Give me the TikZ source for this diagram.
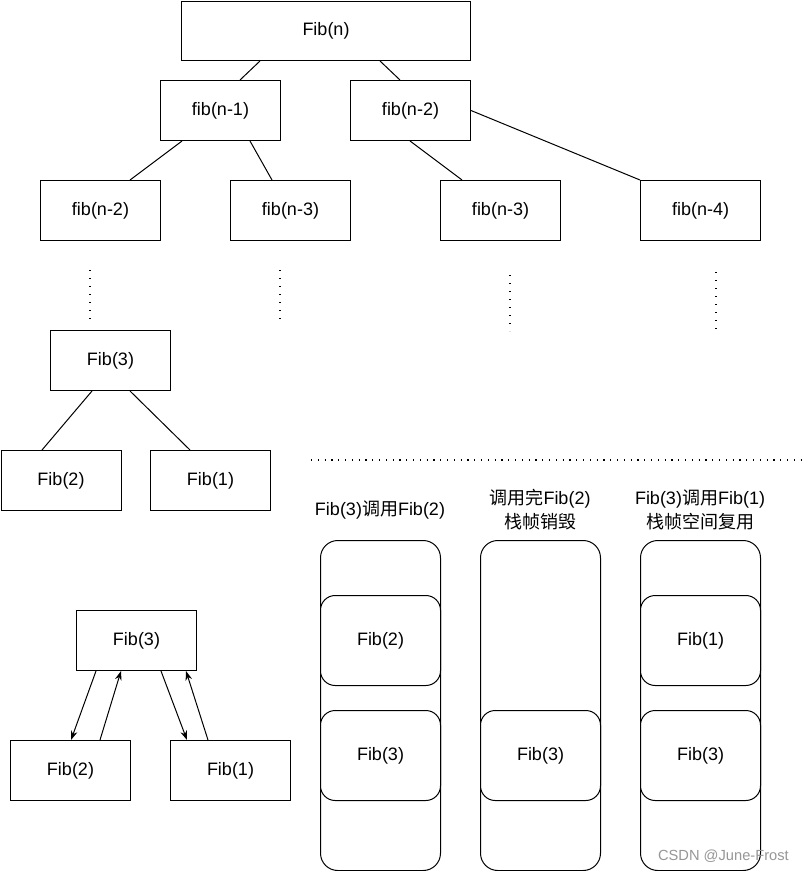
\documentclass[tikz,border=0pt]{standalone}
\usepackage{fontspec}
\setmainfont{Liberation Sans}
\newfontfamily\cjk{Noto Sans CJK SC}
\usetikzlibrary{arrows.meta,calc}
\definecolor{wmgray}{RGB}{150,150,150}
\begin{document}
\begin{tikzpicture}[x=0.75pt,y=-0.75pt,
  lab/.style={font=\fontsize{13.5}{18}\selectfont},
  box/.style={draw, line width=0.75pt, inner sep=0pt, minimum width=90pt, minimum height=45pt, anchor=north west, lab},
  edge/.style={line width=0.75pt},
  arr/.style={line width=0.75pt, -{Stealth[length=7pt,width=5pt]}},
  dots/.style={line width=1.2pt, dash pattern=on 0.9pt off 5.1pt},
  stack/.style={draw, line width=0.75pt, rounded corners=13pt, minimum width=90pt, minimum height=247.5pt, anchor=north west, inner sep=0pt},
  frame/.style={draw, fill=white, line width=0.75pt, rounded corners=11pt, minimum width=90pt, minimum height=67.5pt, anchor=north west, inner sep=0pt, lab},
  title/.style={align=center, inner sep=0pt, lab}
]
\useasboundingbox (0,0) rectangle (803,871);

% recursion tree
\node[box, minimum width=216.75pt, minimum height=44.25pt] (fibn) at (181,1) {Fib(n)};
\node[box] (a1) at (160,80) {fib(n-1)};
\node[box] (a2) at (350,80) {fib(n-2)};
\node[box] (b1) at (40,180) {fib(n-2)};
\node[box] (b2) at (230,180) {fib(n-3)};
\node[box] (b3) at (440,180) {fib(n-3)};
\node[box] (b4) at (640,180) {fib(n-4)};
\node[box] (c3) at (50,330) {Fib(3)};
\node[box] (c2) at (0.5,450) {Fib(2)};
\node[box] (c1) at (150,450) {Fib(1)};

\draw[edge] ($(fibn.south west)+(79,0)$) -- ($(a1.north west)+(80,0)$);
\draw[edge] ($(fibn.south west)+(199,0)$) -- ($(a2.north west)+(50,0)$);
\draw[edge] ($(a1.south west)+(22,0)$) -- ($(b1.north west)+(90,0)$);
\draw[edge] ($(a1.south west)+(90,0)$) -- ($(b2.north west)+(42,0)$);
\draw[edge] ($(a2.south west)+(60,0)$) -- ($(b3.north west)+(22,0)$);
\draw[edge] (a2.east) -- (b4.north west);
\draw[edge] ($(c3.south west)+(42,0)$) -- ($(c2.north west)+(41.5,0)$);
\draw[edge] ($(c3.south west)+(80,0)$) -- ($(c1.north west)+(40,0)$);

% dotted continuation lines
\coordinate (v1a) at (90,270);  \coordinate (v1b) at (90,322);
\coordinate (v2a) at (280,270); \coordinate (v2b) at (280,322);
\coordinate (v3a) at (510,275); \coordinate (v3b) at (510,331);
\coordinate (v4a) at (716,272); \coordinate (v4b) at (716,331);
\draw[dots] (v1a) -- (v1b);
\draw[dots] (v2a) -- (v2b);
\draw[dots] (v3a) -- (v3b);
\draw[dots] (v4a) -- (v4b);
\coordinate (ha) at (311,460); \coordinate (hb) at (803,460);
\draw[line width=1.2pt, dash pattern=on 0.9pt off 4.2pt] (ha) -- (hb);

% call / return arrows
\node[box] (d3) at (76,610) {Fib(3)};
\node[box] (d2) at (10,740) {Fib(2)};
\node[box] (d1) at (170,740) {Fib(1)};
\draw[arr] ($(d3.south west)+(20,0)$) -- ($(d2.north west)+(61,0)$);
\draw[arr] ($(d2.north west)+(90,0)$) -- ($(d3.south west)+(45,0)$);
\draw[arr] ($(d3.south west)+(85,0)$) -- ($(d1.north west)+(17,0)$);
\draw[arr] ($(d1.north west)+(38,0)$) -- ($(d3.south west)+(110,0)$);

% stacks
\node[title] (t1) at (380,510) {Fib(3){\cjk 调用}Fib(2)};
\node[title] (t2) at (540,510) {{\cjk 调用完}Fib(2)\\{\cjk 栈帧销毁}};
\node[title] (t3) at (700,510) {Fib(3){\cjk 调用}Fib(1)\\{\cjk 栈帧空间复用}};

\node[stack] (s1) at (320,540) {};
\node[frame] (s1a) at (320,595) {Fib(2)};
\node[frame] (s1b) at (320,710) {Fib(3)};
\node[stack] (s2) at (480,540) {};
\node[frame] (s2b) at (480,710) {Fib(3)};
\node[stack] (s3) at (640,540) {};
\node[frame] (s3a) at (640,595) {Fib(1)};
\node[frame] (s3b) at (640,710) {Fib(3)};

\node[anchor=east, inner sep=0pt, text=wmgray, font=\fontsize{11}{13}\selectfont] (wm) at (789,856) {CSDN @June-Frost};
\end{tikzpicture}
\end{document}
